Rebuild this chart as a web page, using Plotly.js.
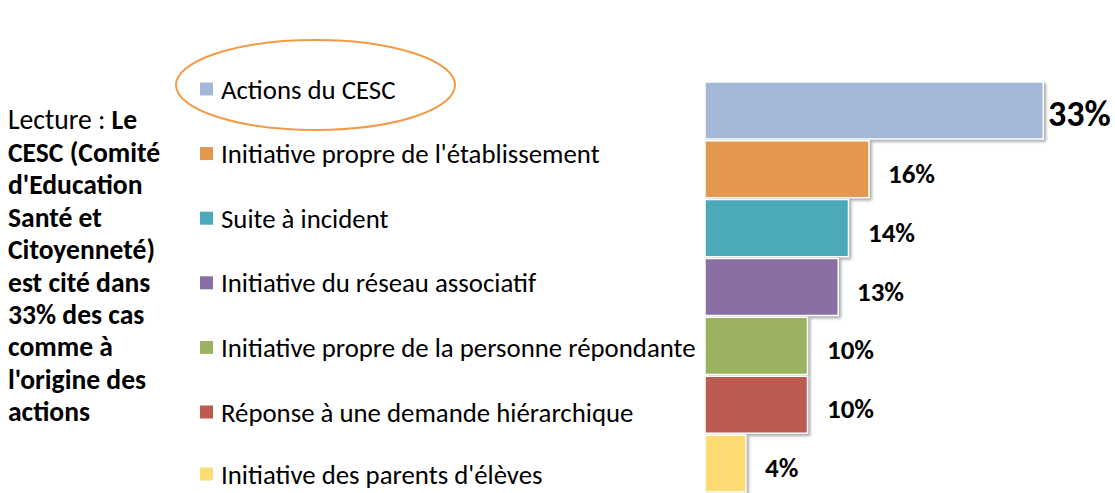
<!DOCTYPE html>
<html><head><meta charset="utf-8">
<script src="https://cdn.plot.ly/plotly-3.0.1.min.js"></script>
<style>
html,body{margin:0;padding:0;background:#fff;}
#chart{width:1115px;height:493px;}
.bars path{filter:drop-shadow(2px 2px 1.5px rgba(0,0,0,0.35));}
</style></head>
<body><div id="chart"></div>
<script>
const categories = ["Actions du CESC","Initiative propre de l'établissement","Suite à incident","Initiative du réseau associatif","Initiative propre de la personne répondante","Réponse à une demande hiérarchique","Initiative des parents d'élèves"];
const values = [33,16,14,13,10,10,4];
const labels = ["33%","16%","14%","13%","10%","10%","4%"];
const colors = ["#A3B8D8","#E3974F","#4BA9BA","#896FA3","#9BB260","#BB5B51","#FFDB74"];
const noteLines = ["Lecture : <b>Le</b>","<b>CESC (Comité</b>","<b>d'Education</b>","<b>Santé et</b>","<b>Citoyenneté)</b>","<b>est cité dans</b>","<b>33% des cas</b>","<b>comme à</b>","<b>l'origine des</b>","<b>actions</b>"];

const W=1115,H=493,L=705,T=81,PW=410,PH=H-T;
const FONT="Carlito, Calibri, Lato, sans-serif";
const px=(x)=>(x-L)/PW, py=(y)=>(H-y)/PH;

const trace={type:'bar',orientation:'h',y:categories,x:values,
  marker:{color:colors,line:{color:'#ffffff',width:1.5}},
  width:0.97,hoverinfo:'none',showlegend:false};

const annotations=[];
values.forEach((v,i)=>{
  const big=i===0;
  annotations.push({x:v,y:categories[i],xref:'x',yref:'y',text:'<b>'+labels[i]+'</b>',
    showarrow:false,xanchor:'left',yanchor:'middle',xshift:big?3:17,yshift:-4,
    font:{family:FONT,size:big?36:27,color:'#000'}});
});
const legTop=89,legPitch=64.6;
const shapes=[];
categories.forEach((c,i)=>{
  const cy=Math.min(legTop+i*legPitch,474);
  shapes.push({type:'rect',xref:'paper',yref:'paper',x0:px(200),x1:px(213),y0:py(cy+6.5),y1:py(cy-6.5),
    fillcolor:colors[i],line:{width:0}});
  annotations.push({xref:'paper',yref:'paper',x:px(220),y:py(cy),text:c,showarrow:false,
    xanchor:'left',yanchor:'middle',borderpad:0,font:{family:FONT,size:26.8,color:'#000'}});
});
noteLines.forEach((t,i)=>{
  annotations.push({xref:'paper',yref:'paper',x:px(6),y:py(120+i*32.4),text:t,showarrow:false,
    xanchor:'left',yanchor:'middle',font:{family:FONT,size:27.6,color:'#000'}});
});
shapes.push({type:'circle',xref:'paper',yref:'paper',x0:px(176),x1:px(455),y0:py(130),y1:py(40),
  line:{color:'#F39A44',width:2}});

const layout={width:W,height:H,margin:{l:L,r:W-L-PW,t:T,b:0,pad:0},
  paper_bgcolor:'#fff',plot_bgcolor:'#fff',
  xaxis:{range:[0,40],visible:false,fixedrange:true},
  yaxis:{type:'category',categoryorder:'array',categoryarray:categories,autorange:'reversed',visible:false},
  bargap:0.03,annotations:annotations,shapes:shapes,showlegend:false};
Plotly.newPlot('chart',[trace],layout,{displayModeBar:false,staticPlot:true});
</script></body></html>
